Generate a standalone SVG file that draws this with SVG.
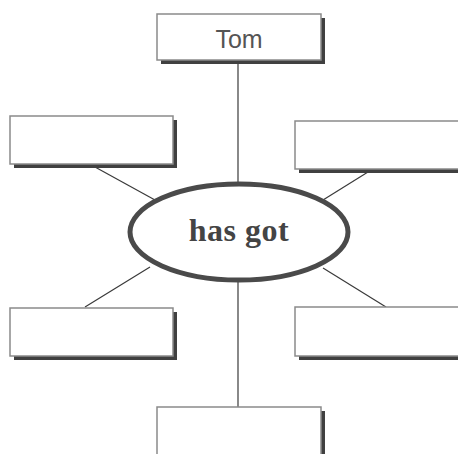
<svg xmlns="http://www.w3.org/2000/svg" width="458" height="454" viewBox="0 0 458 454">
<style>
.box{fill:#fff;stroke:#8a8a8a;stroke-width:1.5}
.sh{fill:#404040}
.ln{stroke:#3a3a3a;stroke-width:1.2;fill:none}
.lbl{font-family:"Liberation Sans",Arial,sans-serif;font-size:25px;fill:#555}
.core{font-family:"Liberation Serif","Times New Roman",serif;font-weight:bold;font-size:32px;letter-spacing:0.5px;fill:#444}
</style>
<rect width="458" height="454" fill="#fff"/>
<g id="connectors">
<line class="ln" x1="238" y1="60" x2="238" y2="184"/>
<line class="ln" x1="238" y1="280" x2="238" y2="407"/>
<line class="ln" x1="95" y1="167" x2="155" y2="200"/>
<line class="ln" x1="368" y1="172" x2="323" y2="200"/>
<line class="ln" x1="85" y1="307" x2="150" y2="267"/>
<line class="ln" x1="323" y1="268" x2="386" y2="307"/>
</g>
<g id="n-top">
<rect class="sh" x="161" y="18" width="164" height="46"/>
<rect class="box" x="157" y="14" width="164" height="46"/>
<text class="lbl" x="239" y="48" text-anchor="middle">Tom</text>
</g>
<g id="n-ul">
<rect class="sh" x="14" y="120" width="163" height="48"/>
<rect class="box" x="10" y="116" width="163" height="48"/>
</g>
<g id="n-ur">
<rect class="sh" x="299" y="125" width="170" height="48"/>
<rect class="box" x="295" y="121" width="170" height="48"/>
</g>
<g id="n-ll">
<rect class="sh" x="14" y="312" width="163" height="48"/>
<rect class="box" x="10" y="308" width="163" height="48"/>
</g>
<g id="n-lr">
<rect class="sh" x="299" y="311" width="170" height="49"/>
<rect class="box" x="295" y="307" width="170" height="49"/>
</g>
<g id="n-bottom">
<rect class="sh" x="161" y="411" width="164" height="60"/>
<rect class="box" x="157" y="407" width="164" height="60"/>
</g>
<g id="n-center">
<ellipse cx="239" cy="232" rx="109" ry="48" fill="#fff" stroke="#4a4a4a" stroke-width="5"/>
<text class="core" x="239" y="241" text-anchor="middle">has got</text>
</g>
</svg>
